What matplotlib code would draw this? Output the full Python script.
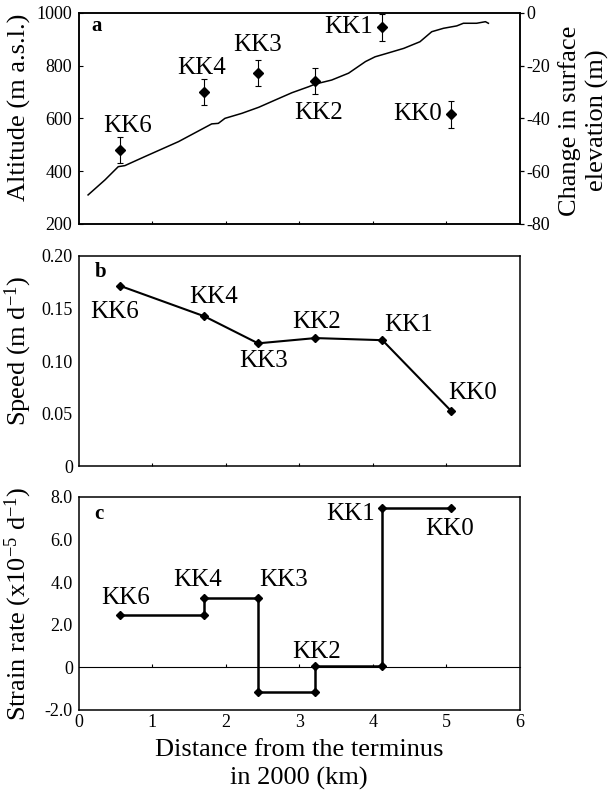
import numpy as np
import matplotlib
matplotlib.use('Agg')
import matplotlib.pyplot as plt

plt.rcParams['font.family'] = ['Liberation Serif', 'DejaVu Serif']
plt.rcParams['mathtext.fontset'] = 'custom'
plt.rcParams['mathtext.rm'] = 'Liberation Serif'
plt.rcParams['mathtext.it'] = 'Liberation Serif:italic'
plt.rcParams['axes.unicode_minus'] = False

# stations, ordered from the terminus upglacier
stations = ['KK6', 'KK4', 'KK3', 'KK2', 'KK1', 'KK0']
station_km = [0.57, 1.71, 2.44, 3.22, 4.13, 5.06]

# (a) surface profile and elevation change at the stakes
profile_km = [0.13, 0.36, 0.54, 0.63, 0.90, 1.36, 1.81, 1.90, 1.99, 2.22,
              2.45, 2.67, 2.90, 3.13, 3.22, 3.44, 3.67, 3.90, 4.03, 4.19,
              4.42, 4.64, 4.80, 4.96, 5.14, 5.23, 5.41, 5.53, 5.57]
profile_alt = [310, 367, 417, 421, 455, 512, 579, 581, 600, 619,
               642, 669, 697, 720, 730, 745, 771, 815, 833, 846,
               865, 890, 928, 941, 950, 960, 960, 966, 960]
dh = [-52.0, -30.0, -22.8, -25.8, -5.6, -38.5]
dh_err = [5, 5, 5, 5, 5, 5]

# (b) surface speed
speed = [0.1715, 0.1427, 0.117, 0.122, 0.120, 0.053]

# (c) strain rate between neighbouring stakes (x1e-5 per day)
strain = [2.45, 3.27, -1.17, 0.05, 7.47]

alt_ticks = [200, 400, 600, 800, 1000]
dh_ticks = [-80, -60, -40, -20, 0]
speed_ticks = [0, 0.05, 0.10, 0.15, 0.20]
speed_ticklabels = ['0', '0.05', '0.10', '0.15', '0.20']
strain_ticks = [-2, 0, 2, 4, 6, 8]
strain_ticklabels = ['-2.0', '0', '2.0', '4.0', '6.0', '8.0']
km_ticks = [0, 1, 2, 3, 4, 5, 6]

# label offsets (points) for each panel
off_a = [(4.8, 17.5), (-2, 17), (0, 20), (2.4, -23.3), (-24, 0), (-24, 0)]
off_b = [(-4.5, -19), (7, 14), (4, -13), (1, 11.5), (19, 11), (16, 13)]
off_c = [(3.6, 12), (-5, 12.5), (18.7, 12.5), (0.7, 10.5), (-23, -4), (-1, -15)]

TICK_FS = 13
LAB_FS = 19
STA_FS = 18
SPINE_LW = 1.1

fig = plt.figure(figsize=(6.11, 7.94), dpi=100)
left, width = 0.1285, 0.7226
ax_a = fig.add_axes([left, 0.7179, width, 0.2661])
ax_b = fig.add_axes([left, 0.4125, width, 0.2651])
ax_c = fig.add_axes([left, 0.1058, width, 0.2685])


def style_frame(ax):
    for sp in ax.spines.values():
        sp.set_linewidth(SPINE_LW)
    ax.set_xlim(0, 6)
    ax.tick_params(axis='y', length=0, pad=4, labelsize=TICK_FS)


def label_stations(ax, ys, offsets):
    for name, x, y, off in zip(stations, station_km, ys, offsets):
        ax.annotate(name, (x, y), xytext=off, textcoords='offset points',
                    ha='center', va='center', fontsize=STA_FS)


# ---- panel a
style_frame(ax_a)
ax_a.plot(profile_km, profile_alt, color='black', lw=1.1)
ax_a.set_ylim(200, 1000)
ax_a.set_yticks(alt_ticks)
ax_a.tick_params(axis='y', direction='in', length=3, width=0.8, pad=4.5)
ax_a.set_xticks(km_ticks[1:-1])
ax_a.tick_params(axis='x', direction='in', length=2.3, width=0.8, labelbottom=False)
ax_a.set_ylabel('Altitude (m a.s.l.)', fontsize=LAB_FS)
ax_a.yaxis.set_label_coords(-0.108, 0.55)

ax_r = ax_a.twinx()
ax_r.set_ylim(-80, 0)
ax_r.set_yticks(dh_ticks)
ax_r.tick_params(axis='y', direction='out', length=3, width=0.9, pad=1.5, labelsize=TICK_FS)
for sp in ax_r.spines.values():
    sp.set_linewidth(SPINE_LW)
ax_r.errorbar(station_km, dh, yerr=dh_err, fmt='D', color='black', ms=5.2,
              elinewidth=0.8, capsize=2.2, capthick=0.8)
ax_r.set_ylabel('Change in surface\nelevation (m)', fontsize=LAB_FS, linespacing=1.3)
ax_r.yaxis.set_label_coords(1.085, 0.49)
label_stations(ax_r, dh, off_a)
ax_a.text(0.04, 0.935, 'a', transform=ax_a.transAxes, fontsize=15,
          fontweight='bold', ha='center', va='center')

# ---- panel b
style_frame(ax_b)
ax_b.plot(station_km, speed, color='black', lw=1.5, marker='D', ms=4.3)
ax_b.set_ylim(0, 0.20)
ax_b.set_yticks(speed_ticks)
ax_b.set_yticklabels(speed_ticklabels)
ax_b.set_xticks(km_ticks[1:-1])
ax_b.tick_params(axis='x', direction='in', length=2.3, width=0.8, labelbottom=False)
ax_b.set_ylabel('Speed (m d$^{-1}$)', fontsize=LAB_FS)
ax_b.yaxis.set_label_coords(-0.10, 0.55)
label_stations(ax_b, speed, off_b)
ax_b.text(0.05, 0.925, 'b', transform=ax_b.transAxes, fontsize=15,
          fontweight='bold', ha='center', va='center')

# ---- panel c
style_frame(ax_c)
step_x = np.repeat(station_km, 2)[1:-1]
step_y = np.repeat(strain, 2)
ax_c.plot(step_x, step_y, color='black', lw=1.8, marker='D', ms=4.3)
ax_c.set_ylim(-2, 8)
ax_c.set_yticks(strain_ticks)
ax_c.set_yticklabels(strain_ticklabels)
ax_c.set_xticks(km_ticks)
ax_c.tick_params(axis='x', length=0, pad=3, labelsize=TICK_FS)
ax_c.set_ylabel('Strain rate (x10$^{-5}$ d$^{-1}$)', fontsize=LAB_FS)
ax_c.yaxis.set_label_coords(-0.10, 0.50)
ax_c.set_xlabel('Distance from the terminus\nin 2000 (km)', fontsize=LAB_FS, linespacing=1.35)
ax_c.xaxis.set_label_coords(0.5, -0.135)

zero_frac = (0 - strain_ticks[0]) / (strain_ticks[-1] - strain_ticks[0])
ax_zero = ax_c.secondary_xaxis(zero_frac)
ax_zero.set_xticks(km_ticks[1:-1])
ax_zero.tick_params(direction='in', length=2.3, width=0.8, labelbottom=False)
ax_zero.spines['bottom'].set_linewidth(0.8)

anchor_c = [max(strain[max(i - 1, 0)], strain[min(i, len(strain) - 1)])
            for i in range(len(stations))]
label_stations(ax_c, anchor_c, off_c)
ax_c.text(0.045, 0.92, 'c', transform=ax_c.transAxes, fontsize=15,
          fontweight='bold', ha='center', va='center')

fig.savefig('out.png', dpi=100)
